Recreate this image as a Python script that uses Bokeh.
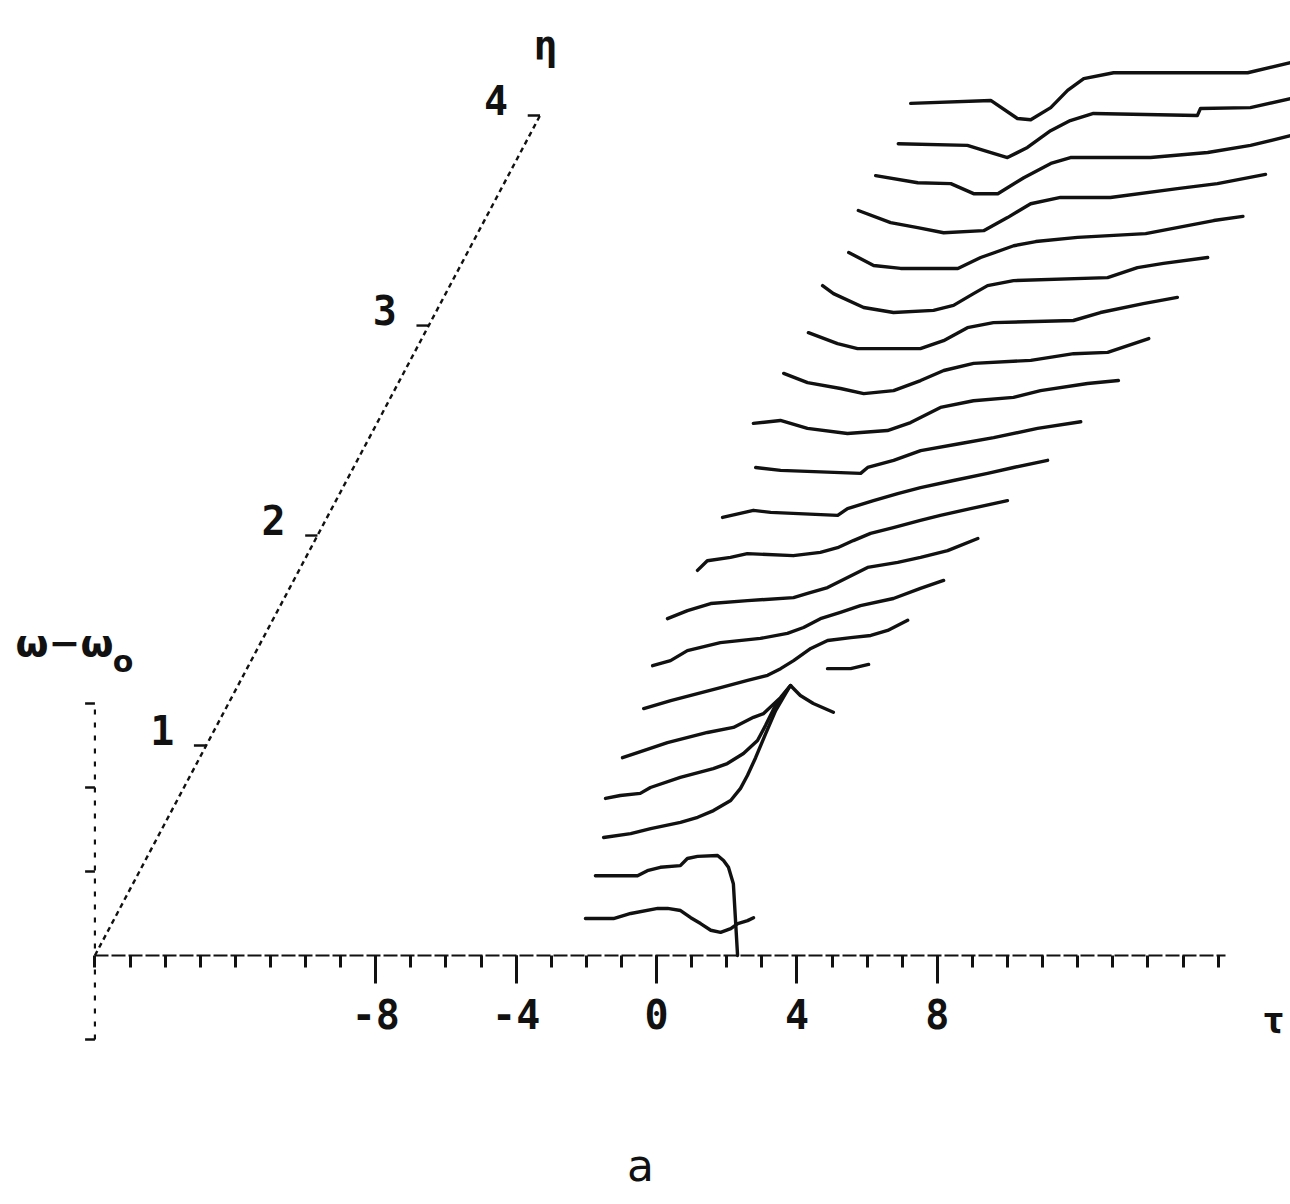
import math
from bokeh.plotting import figure
from bokeh.models import LinearAxis, FixedTicker, Range1d
from bokeh.core.properties import value
from bokeh.embed import file_html
from bokeh.resources import INLINE

NAN = math.nan

# propagation distance of each trace
ETA = [0.2, 0.4, 0.6, 0.8, 1.0, 1.2, 1.4, 1.6, 1.8, 2.0,
       2.2, 2.4, 2.6, 2.8, 3.0, 3.2, 3.4, 3.6, 3.8, 4.0]

# frequency shift omega - omega0 against retarded time tau, one pair per eta
TAU = [
    [-2.66, -1.86, -1.37, -0.60, -0.32, 0.05, 0.34, 0.62, 0.91, 1.19, 1.48, 1.68, 1.96, 2.13],
    [-3.01, -1.81, -1.53, -1.16, -0.59, -0.39, -0.10, 0.47, 0.64, 0.78, 0.92, 1.04],
    [-3.41, -2.64, -2.07, -1.22, -0.73, -0.28, 0.21, 0.49, 0.69, 0.92, 1.21, 1.49, 1.86],
    [-3.99, -3.57, -3.00, -2.71, -1.86, -0.92, -0.52, -0.06, 0.34, 0.57, 0.85, 1.28, 1.56, 1.93, 2.50],
    [-4.14, -3.71, -2.86, -1.72, -0.98, -0.41, -0.12, 0.36, 0.65, NAN, 1.70, 2.36, 2.87],
    [-4.17, -3.40, -1.98, -1.21, -0.64, -0.27, 0.10, 0.59, 1.07, 1.73, 2.30, 2.78, 3.35],
    [-4.55, -4.04, -3.56, -2.62, -1.48, -0.71, -0.25, 0.23, 0.80, 1.37, 2.31, 3.08, 3.74],
    [-4.76, -4.19, -3.53, -2.48, -1.17, -0.77, -0.20, 0.37, 0.94, 1.80, 2.45, 3.22, 4.08],
    [-4.54, -4.26, -3.60, -3.12, -1.81, -1.04, -0.55, -0.10, 0.39, 1.04, 1.81, 2.38, 3.24, 4.29],
    [-4.46, -3.58, -3.09, -1.18, -0.90, -0.16, 0.53, 1.18, 2.12, 3.09, 3.83, 4.80],
    [-4.15, -3.44, -1.16, -0.96, -0.22, 0.55, 1.69, 2.63, 3.88, 5.11],
    [-4.85, -4.08, -3.31, -2.17, -1.03, -0.37, 0.48, 1.42, 2.56, 3.33, 4.67, 5.55],
    [-4.62, -3.94, -3.00, -2.34, -1.49, -0.72, -0.06, 0.79, 2.42, 3.64, 4.61, 5.78],
    [-4.55, -3.72, -3.15, -1.36, -0.70, -0.02, 0.72, 3.00, 3.77, 4.99, 5.96],
    [-4.78, -4.47, -3.61, -2.76, -1.62, -1.05, -0.48, -0.08, 0.66, 3.34, 4.19, 4.93, 6.19],
    [-4.67, -3.96, -3.19, -1.56, -0.91, 0.03, 0.66, 1.85, 3.79, 5.73, 6.56],
    [-5.03, -4.11, -3.34, -2.60, -1.46, -0.78, -0.12, 0.73, 2.15, 4.06, 5.20, 6.57],
    [-5.17, -3.97, -3.03, -2.38, -1.69, -0.95, -0.18, 0.38, 2.66, 4.29, 5.51, 6.65],
    [-5.16, -3.19, -2.73, -2.05, -1.48, -0.82, -0.26, 0.40, 3.36, 3.45, 4.87, 6.01],
    [-5.44, -3.16, -2.40, -2.02, -1.45, -0.97, -0.51, 0.34, 4.16, 5.38],
]
OMEGA = [
    [-0.12, -0.12, 0.00, 0.12, 0.12, 0.07, -0.10, -0.24, -0.40, -0.45, -0.36, -0.24, -0.17, -0.10],
    [-0.10, -0.10, 0.02, 0.10, 0.14, 0.31, 0.36, 0.38, 0.26, 0.10, -0.29, -2.00],
    [-0.19, -0.10, 0.02, 0.17, 0.29, 0.45, 0.69, 0.98, 1.29, 1.71, 2.29, 2.83, 3.36],
    [-0.26, -0.19, -0.14, 0.00, 0.24, 0.45, 0.57, 0.81, 1.12, 1.48, 1.95, 2.43, 2.19, 2.00, 1.79],
    [-0.29, -0.17, 0.07, 0.31, 0.43, 0.67, 0.76, 1.14, 1.43, NAN, 1.83, 1.83, 1.93],
    [-0.12, 0.07, 0.38, 0.55, 0.67, 0.83, 1.02, 1.31, 1.50, 1.57, 1.62, 1.74, 1.98],
    [-0.10, 0.02, 0.26, 0.45, 0.55, 0.67, 0.81, 1.02, 1.17, 1.33, 1.50, 1.74, 1.93],
    [0.02, 0.21, 0.38, 0.45, 0.52, 0.62, 0.76, 1.00, 1.24, 1.36, 1.48, 1.64, 1.93],
    [0.17, 0.40, 0.48, 0.57, 0.52, 0.60, 0.71, 0.88, 1.05, 1.19, 1.36, 1.48, 1.64, 1.83],
    [0.43, 0.60, 0.55, 0.48, 0.64, 0.83, 1.00, 1.14, 1.31, 1.48, 1.62, 1.79],
    [0.62, 0.55, 0.48, 0.62, 0.79, 1.02, 1.19, 1.33, 1.55, 1.71],
    [0.67, 0.74, 0.55, 0.43, 0.50, 0.69, 1.05, 1.21, 1.29, 1.45, 1.62, 1.69],
    [0.86, 0.64, 0.50, 0.38, 0.45, 0.69, 0.93, 1.10, 1.17, 1.33, 1.36, 1.69],
    [0.83, 0.57, 0.45, 0.45, 0.64, 0.95, 1.07, 1.12, 1.31, 1.52, 1.67],
    [0.95, 0.76, 0.43, 0.31, 0.36, 0.48, 0.76, 0.95, 1.07, 1.14, 1.38, 1.48, 1.62],
    [0.74, 0.43, 0.36, 0.36, 0.62, 0.90, 1.00, 1.10, 1.19, 1.50, 1.60],
    [0.74, 0.45, 0.33, 0.21, 0.26, 0.57, 0.90, 1.05, 1.05, 1.26, 1.38, 1.60],
    [0.57, 0.40, 0.38, 0.14, 0.14, 0.52, 0.86, 1.00, 1.00, 1.12, 1.29, 1.52],
    [0.33, 0.29, 0.17, 0.00, 0.24, 0.64, 0.88, 1.05, 1.00, 1.17, 1.19, 1.40],
    [0.29, 0.36, -0.07, -0.10, 0.19, 0.60, 0.88, 1.02, 1.02, 1.26],
]

# axis ticks and labels
TAU_TICKS = [-8, -4, 0, 4, 8]
TAU_TICK_LABELS = ["-8", "-4", "0", "4", "8"]
TAU_MINOR = list(range(-16, 17))
TAU_START, TAU_END = -16, 16.2
OMEGA_TICKS = [-2, 2, 4, 6]
OMEGA_START, OMEGA_END = -2, 6
ETA_TICKS = [1, 2, 3, 4]
ETA_TICK_LABELS = ["1", "2", "3", "4"]

# oblique projection of the eta direction onto the (tau, omega) page
SKEW_TAU = 3.17
SKEW_OMEGA = 5.0

INK = "#111111"
MONO = value("DejaVu Sans Mono")

p = figure(width=1290, height=1204,
           x_range=Range1d(-18.69, 18.06), y_range=Range1d(-5.93, 22.74),
           output_backend="svg", toolbar_location=None,
           x_axis_location=None, y_axis_location=None,
           min_border=0, outline_line_color=None)
p.grid.visible = False
p.background_fill_color = "white"
p.border_fill_color = "white"

# tau axis along omega = 0
tau_axis = LinearAxis(
    fixed_location=0,
    bounds=(TAU_START, TAU_END),
    ticker=FixedTicker(ticks=TAU_TICKS, minor_ticks=TAU_MINOR),
    major_label_overrides=dict(zip(TAU_TICKS, TAU_TICK_LABELS)),
    axis_line_color=INK, axis_line_width=2.2, axis_line_dash="14 3",
    major_tick_line_color=INK, major_tick_line_width=3,
    major_tick_in=0, major_tick_out=28,
    minor_tick_line_color=INK, minor_tick_line_width=3,
    minor_tick_in=0, minor_tick_out=12,
    major_label_standoff=16,
    major_label_text_font="DejaVu Sans Mono",
    major_label_text_font_style="bold",
    major_label_text_font_size="40px",
    major_label_text_color=INK,
)
p.add_layout(tau_axis, "below")

# omega axis at the start of the tau axis
p.line([TAU_START, TAU_START], [OMEGA_START, OMEGA_END],
       line_color=INK, line_width=2.2, line_dash="5 8")
p.segment(x0=[TAU_START] * len(OMEGA_TICKS), y0=OMEGA_TICKS,
          x1=[TAU_START - 0.28] * len(OMEGA_TICKS), y1=OMEGA_TICKS,
          line_color=INK, line_width=2.5)

# eta axis, drawn obliquely from the origin
eta_end = ETA_TICKS[-1]
p.line([TAU_START, TAU_START + SKEW_TAU * eta_end], [0, SKEW_OMEGA * eta_end],
       line_color=INK, line_width=2.4, line_dash="5 4")
eta_x = [TAU_START + SKEW_TAU * e for e in ETA_TICKS]
eta_y = [SKEW_OMEGA * e for e in ETA_TICKS]
p.segment(x0=eta_x, y0=eta_y, x1=[x - 0.35 for x in eta_x], y1=eta_y,
          line_color=INK, line_width=2.4)
p.text(x=[x - 1.25 for x in eta_x], y=[y + 0.38 for y in eta_y], text=ETA_TICK_LABELS,
       text_font=MONO, text_font_style="bold", text_font_size="40px",
       text_align="center", text_baseline="middle", text_color=INK)

# one frequency trace per eta, shifted along the eta direction
for eta, tau, om in zip(ETA, TAU, OMEGA):
    xs = [t + SKEW_TAU * eta for t in tau]
    ys = [w + SKEW_OMEGA * eta for w in om]
    p.line(xs, ys, line_color=INK, line_width=3.4, line_join="round", line_cap="round")

# axis names and panel letter
p.text(x=[-3.16], y=[21.67], text=["η"], text_font=MONO, text_font_style="bold",
       text_font_size="40px", text_align="center", text_baseline="middle", text_color=INK)
p.text(x=[17.9], y=[-1.55], text=["τ"], text_font=MONO, text_font_style="bold",
       text_font_size="38px", text_align="right", text_baseline="middle", text_color=INK)
p.text(x=[-18.26], y=[7.43], text=["ω−ω"], text_font=value("DejaVu Sans"), text_font_style="bold",
       text_font_size="38px", text_align="left", text_baseline="middle", text_color=INK)
p.text(x=[-15.2], y=[7.0], text=["o"], text_font=value("DejaVu Sans"), text_font_style="bold",
       text_font_size="30px", text_align="center", text_baseline="middle", text_color=INK)
p.text(x=[-0.46], y=[-5.0], text=["a"], text_font=value("DejaVu Sans"),
       text_font_size="44px", text_align="center", text_baseline="middle", text_color=INK)

open("out.html", "w").write(file_html(p, INLINE))
